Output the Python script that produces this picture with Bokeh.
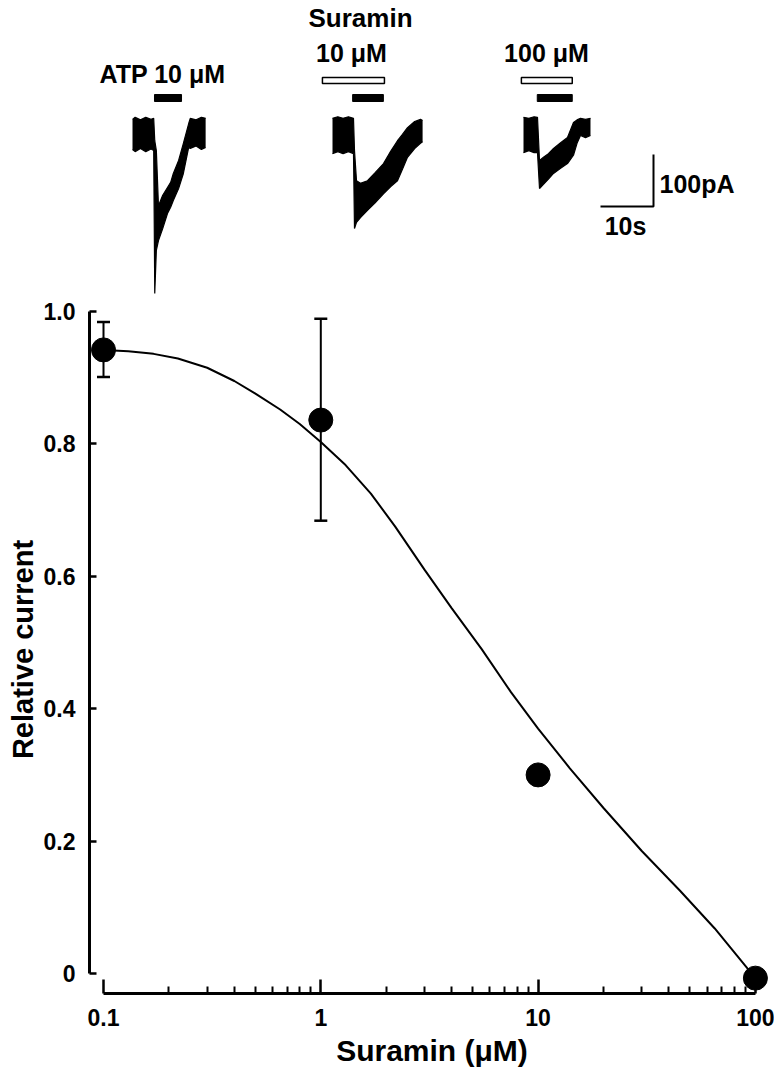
import math
from bokeh.plotting import figure
from bokeh.layouts import column
from bokeh.models import (Range1d, FixedTicker, CustomJSTickFormatter, Whisker,
                          ColumnDataSource, TeeHead)
from bokeh.embed import file_html
from bokeh.resources import INLINE
from bokeh.core.properties import value

# ---------------- data: concentration-response ----------------
conc = [0.1, 1, 10, 100]                      # suramin (µM)
rel_current = [0.942, 0.836, 0.300, -0.007]   # relative current
err_x = [0.1, 1]
err_lo = [0.901, 0.684]
err_hi = [0.984, 0.989]

# fitted curve, points
fit_x = [0.1, 0.13, 0.17, 0.22, 0.3, 0.4, 0.5, 0.65, 0.8, 1.0, 1.3, 1.7, 2.2,
         3.0, 4.0, 5.5, 7.5, 10, 14, 20, 30, 45, 65, 100]
fit_y = [0.942, 0.940, 0.936, 0.929, 0.915, 0.895, 0.876, 0.852, 0.830, 0.803,
         0.768, 0.725, 0.675, 0.610, 0.552, 0.490, 0.425, 0.370, 0.310, 0.250,
         0.185, 0.125, 0.068, -0.007]

x_ticks = [0.1, 1, 10, 100]
x_minor = [0.2, 0.3, 0.4, 0.5, 0.6, 0.7, 0.8, 0.9,
           2, 3, 4, 5, 6, 7, 8, 9,
           20, 30, 40, 50, 60, 70, 80, 90]
y_ticks = [0, 0.2, 0.4, 0.6, 0.8, 1.0]

# ---------------- data: current traces (time s, envelope pA) ----------------
ctrl_t = [0, 0.5, 1.5, 2.5, 3.5, 4.0, 4.2, 4.5, 4.9, 5.7, 6.6, 7.2, 7.7, 8.7,
          9.6, 10.6, 10.9, 12.0, 13.0, 13.8]
ctrl_hi = [31, 35, 30, 35, 31, 33, -10, -29, -135, -115, -100, -90, -73, -48,
           -15, 23, 33, 30, 35, 33]
ctrl_lo = [-27, -31, -25, -31, -26, -29, -304, -221, -202, -179, -150, -138,
           -125, -102, -73, -23, -25, -20, -27, -23]

s10_t = [0, 1.0, 2.0, 3.0, 3.96, 4.15, 4.53, 5.28, 6.6, 8.0, 9.62, 11.0,
         12.26, 13.2, 14.15, 15.5, 16.6, 17.0]
s10_hi = [33, 36, 33, 36, 33, -29, -87, -92, -87, -72, -54, -30, -10, 2, 15,
          27, 31, 29]
s10_lo = [-35, -31, -35, -31, -35, -179, -167, -158, -144, -130, -112, -98,
          -87, -65, -42, -25, -15, -12]

s100_t = [0, 1.0, 2.0, 2.64, 3.02, 3.77, 4.7, 5.66, 7.0, 8.3, 9.43, 10.1,
          10.75, 11.7, 12.64]
s100_hi = [35, 33, 36, 35, -48, -42, -35, -25, -14, -4, 25, 30, 33, 31, 33]
s100_lo = [-33, -29, -33, -33, -102, -94, -84, -73, -63, -54, -38, -15, 0,
           -4, 0]

# drug application windows (s, from sweep start)
atp_on = [(4.15, 9.25), (3.8, 9.6), (2.6, 9.2)]
sur_on = [None, (-1.9, 9.8), (-0.4, 9.2)]
sweep_labels = ["ATP 10 \u03bcM", "10 \u03bcM", "100 \u03bcM"]
scale_t = 10      # s
scale_i = 100     # pA

FONT = "Liberation Sans"

# ---------------- layout constants ----------------
W = 774
LEFT = 89          # frame left (px)
FRAME_W = W - LEFT
TOP_H = 298

PX_PER_S = 5.3
PA_PER_PX = 1.923
BASE_Y = 135       # page y of trace baseline
TXT_SHIFT = 10     # svg text sits ~10px below its nominal baseline


def X(px):
    return (px - LEFT) / PX_PER_S


def Y(py):
    return (BASE_Y - py) * PA_PER_PX


def YT(py):
    return Y(py - TXT_SHIFT)


# ---------------- top panel: traces ----------------
top = figure(width=W, height=TOP_H, x_range=Range1d(0, FRAME_W / PX_PER_S),
             y_range=Range1d(Y(TOP_H), Y(0)), x_axis_location=None,
             y_axis_location=None, min_border=0, min_border_left=LEFT,
             outline_line_color=None, toolbar_location=None,
             output_backend="svg")
top.xgrid.visible = False
top.ygrid.visible = False

offsets = [X(132), X(332), X(523)]
traces = [(ctrl_t, ctrl_hi, ctrl_lo), (s10_t, s10_hi, s10_lo),
          (s100_t, s100_hi, s100_lo)]
for off, (t, hi, lo) in zip(offsets, traces):
    xs = [v + off for v in t]
    top.varea(x=xs, y1=lo, y2=hi, fill_color="black")
    top.line(xs, hi, color="black", line_width=1.2)
    top.line(xs, lo, color="black", line_width=1.2)

for off, a, s in zip(offsets, atp_on, sur_on):
    top.quad(left=[a[0] + off], right=[a[1] + off], top=[Y(94)], bottom=[Y(101)],
             fill_color="black", line_color="black")
    if s is not None:
        top.quad(left=[s[0] + off], right=[s[1] + off], top=[Y(77)],
                 bottom=[Y(83)], fill_color="white", line_color="black",
                 line_width=1.5)

# scale bar
cx, cy = X(653), Y(206)
top.line([cx - scale_t, cx, cx], [cy, cy, cy + scale_i], color="black",
         line_width=2)

txt = dict(text_font=value(FONT), text_font_style="bold", text_color="black",
           text_baseline="alphabetic")
top.text(x=[X(162)], y=[YT(83)], text=[sweep_labels[0]], text_align="center",
         text_font_size="25px", **txt)
top.text(x=[X(351)], y=[YT(62)], text=[sweep_labels[1]], text_align="center",
         text_font_size="25px", **txt)
top.text(x=[X(546)], y=[YT(62)], text=[sweep_labels[2]], text_align="center",
         text_font_size="25px", **txt)
top.text(x=[X(360)], y=[YT(27)], text=["Suramin"], text_align="center",
         text_font_size="26px", **txt)
top.text(x=[cx + 6 / PX_PER_S], y=[YT(193)], text=["%dpA" % scale_i],
         text_align="left", text_font_size="25px", **txt)
top.text(x=[X(625)], y=[YT(235)], text=["%ds" % scale_t], text_align="center",
         text_font_size="25px", **txt)

# ---------------- bottom panel: concentration-response ----------------
DEC = 217.3        # px per decade
x0 = 10 ** (-1 - 14 / DEC)
x1 = 10 ** (math.log10(x0) + FRAME_W / DEC)
PX_PER_UNIT = 662.0
y0 = -20 / PX_PER_UNIT
y1 = 1 + 6 / PX_PER_UNIT

p = figure(width=W, height=1072 - TOP_H, x_axis_type="log",
           x_range=Range1d(x0, x1), y_range=Range1d(y0, y1),
           min_border_left=LEFT, min_border_right=0, min_border_top=7,
           min_border_bottom=79, outline_line_color=None,
           toolbar_location=None, output_backend="svg")
p.xgrid.visible = False
p.ygrid.visible = False

p.line(fit_x, fit_y, color="black", line_width=2)
src = ColumnDataSource(dict(x=err_x, lo=err_lo, hi=err_hi))
p.add_layout(Whisker(source=src, base="x", lower="lo", upper="hi",
                     line_color="black", line_width=2,
                     upper_head=TeeHead(size=13, line_width=2.5, line_color="black"),
                     lower_head=TeeHead(size=13, line_width=2.5, line_color="black")))
p.scatter(conc, rel_current, size=24, color="black")

xa = p.xaxis[0]
xa.ticker = FixedTicker(ticks=x_ticks, minor_ticks=x_minor)
xa.formatter = CustomJSTickFormatter(
    code="return tick < 1 ? tick.toFixed(1) : tick.toFixed(0);")
xa.bounds = (0.1, 100)
xa.major_tick_in = 14
xa.major_tick_out = 0
xa.minor_tick_in = 7
xa.minor_tick_out = 0
xa.axis_label = "Suramin (\u03bcM)"
xa.major_label_standoff = 15
xa.axis_label_standoff = 5
xa.axis_label_text_font_size = "30px"

ya = p.yaxis[0]
ya.ticker = FixedTicker(ticks=y_ticks)
ya.formatter = CustomJSTickFormatter(code="return tick == 0 ? '0' : tick.toFixed(1);")
ya.bounds = (0, 1)
ya.major_tick_in = 7
ya.major_tick_out = 0
ya.minor_tick_in = 0
ya.minor_tick_out = 0
ya.major_label_standoff = 14
ya.axis_label = "Relative current"
ya.axis_label_standoff = 2
ya.axis_label_text_font_size = "29px"

for ax in (xa, ya):
    ax.axis_line_width = 3
    ax.axis_line_color = "black"
    ax.major_tick_line_width = 2.5
    ax.major_tick_line_color = "black"
    ax.minor_tick_line_width = 2
    ax.minor_tick_line_color = "black"
    ax.major_label_text_font = FONT
    ax.major_label_text_font_style = "bold"
    ax.major_label_text_font_size = "23px"
    ax.major_label_text_color = "black"
    ax.axis_label_text_font = FONT
    ax.axis_label_text_font_style = "bold"
    ax.axis_label_text_color = "black"

layout = column(top, p)
open("out.html", "w").write(file_html(layout, INLINE))
